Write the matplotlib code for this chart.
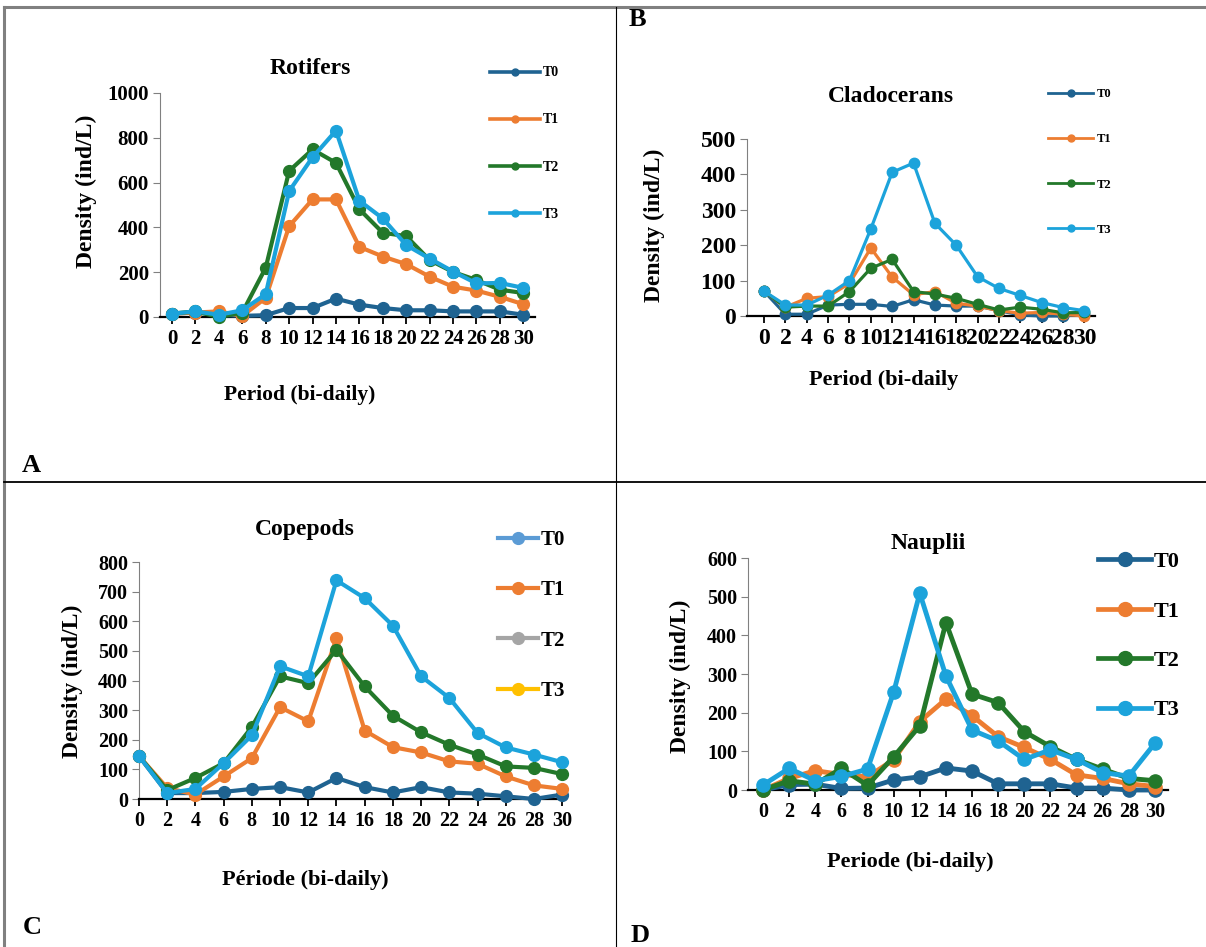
import matplotlib
matplotlib.use("Agg")
import matplotlib.pyplot as plt
from matplotlib.lines import Line2D

plt.rcParams["font.family"] = ["Liberation Serif", "DejaVu Serif"]
plt.rcParams["font.weight"] = "bold"

W, H = 1206, 947

periods = list(range(0, 31, 2))
series_names = ["T0", "T1", "T2", "T3"]

# Rotifers (ind/L)
rot_t0 = [15, 20, 10, 5, 8, 40, 40, 82, 55, 40, 30, 30, 25, 25, 25, 10]
rot_t1 = [15, 20, 25, 5, 85, 405, 525, 525, 313, 270, 236, 180, 135, 118, 90, 57]
rot_t2 = [15, 25, 0, 20, 220, 652, 748, 688, 481, 376, 361, 254, 201, 165, 122, 107]
rot_t3 = [15, 25, 10, 30, 102, 562, 713, 832, 519, 440, 321, 261, 203, 150, 152, 130]

# Cladocerans
cla_t0 = [70, 5, 5, 31, 33, 33, 27, 46, 31, 28, 28, 15, 3, 0, 0, 5]
cla_t1 = [70, 25, 50, 55, 92, 192, 110, 60, 69, 36, 28, 15, 8, 10, 5, 0]
cla_t2 = [70, 25, 28, 28, 69, 135, 160, 69, 62, 50, 33, 17, 25, 19, 9, 10]
cla_t3 = [70, 31, 31, 59, 100, 246, 406, 432, 262, 200, 111, 78, 58, 38, 24, 15]

# Copepods
cop_t0 = [145, 20, 20, 24, 34, 40, 22, 71, 40, 22, 40, 22, 18, 9, 0, 15]
cop_t1 = [145, 37, 15, 76, 138, 310, 262, 543, 231, 175, 157, 127, 119, 76, 46, 34]
cop_t2 = [145, 30, 71, 121, 243, 414, 391, 504, 380, 281, 225, 183, 150, 110, 105, 84]
cop_t3 = [145, 20, 34, 121, 215, 448, 414, 738, 678, 585, 414, 341, 223, 174, 150, 124]

# Nauplii
nau_t0 = [0, 14, 15, 4, 5, 26, 34, 57, 49, 16, 16, 16, 5, 5, 0, 0]
nau_t1 = [0, 30, 50, 40, 34, 78, 177, 235, 192, 138, 110, 79, 39, 30, 16, 9]
nau_t2 = [0, 24, 15, 56, 12, 86, 166, 433, 248, 226, 151, 112, 79, 54, 30, 24]
nau_t3 = [13, 56, 24, 35, 54, 253, 509, 295, 155, 127, 79, 104, 79, 45, 36, 121]

LINE_COLORS = ["#1F6391", "#ED7D31", "#23782A", "#1CA3DB"]
COPEPOD_LEGEND_COLORS = ["#5B9BD5", "#ED7D31", "#A5A5A5", "#FFC000"]

fig = plt.figure(figsize=(W / 100, H / 100), dpi=100)


def fxy(x, y):
    return x / W, 1 - y / H


def panel(rect, xlim, ymax, ystep, series, lw, ms, tick_fs):
    l, t, r, b = rect
    ax = fig.add_axes([l / W, 1 - b / H, (r - l) / W, (b - t) / H])
    ax.patch.set_alpha(0)
    for vals, c in zip(series, LINE_COLORS):
        ax.plot(periods, vals, "-o", color=c, lw=lw, ms=ms, clip_on=False, zorder=3)
    ax.set_xlim(*xlim)
    ax.set_ylim(0, ymax)
    ax.set_xticks(periods)
    ax.set_yticks(range(0, ymax + 1, ystep))
    for s in ("top", "right"):
        ax.spines[s].set_visible(False)
    ax.spines["left"].set_color("#808080")
    ax.spines["bottom"].set_linewidth(1.6)
    ax.tick_params(direction="out", length=5, labelsize=tick_fs)
    ax.tick_params(axis="y", color="#808080", pad=3)
    ax.tick_params(axis="x", width=1.3)
    return ax


def legend(ax, colors, left, cy, fs, lw, ms, hl, pad, spacing):
    handles = [Line2D([], [], color=c, lw=lw, marker="o", ms=ms) for c in colors]
    ax.legend(handles, series_names, loc="center left", bbox_to_anchor=fxy(left, cy),
              bbox_transform=fig.transFigure, frameon=False, borderpad=0,
              borderaxespad=0, fontsize=fs, handlelength=hl, handletextpad=pad,
              labelspacing=spacing)


def label(x, y, s, size, rot=0):
    fig.text(*fxy(x, y), s, fontsize=size, fontweight="bold", rotation=rot,
             ha="center", va="center")


# A - Rotifers
ax = panel((160, 93, 535, 317), (-1.03, 31), 1000, 200,
           [rot_t0, rot_t1, rot_t2, rot_t3], 3.0, 8.5, 15)
legend(ax, LINE_COLORS, 490, 143.5, 10, 2.6, 5, 3.6, 0.2, 2.45)
label(310, 68, "Rotifers", 17)
label(86, 191, "Density (ind/L)", 17, 90)
label(300, 395, "Period (bi-daily)", 15.5)

# B - Cladocerans
ax = panel((747, 139, 1095, 316), (-1.6, 31), 500, 100,
           [cla_t0, cla_t1, cla_t2, cla_t3], 2.3, 7.5, 17)
legend(ax, LINE_COLORS, 1048, 162, 9, 2.0, 5, 3.6, 0.3, 2.65)
label(891, 96, "Cladocerans", 17)
label(654, 225, "Density (ind/L)", 17, 90)
label(884, 380, "Period (bi-daily", 16)

# C - Copepods
ax = panel((139, 562, 565, 799), (0, 30.2), 800, 100,
           [cop_t0, cop_t1, cop_t2, cop_t3], 3.0, 8.5, 14.5)
legend(ax, COPEPOD_LEGEND_COLORS, 498, 615.5, 15, 3.0, 8.5, 1.9, 0.15, 1.45)
label(305, 530, "Copepods", 17)
label(72, 681, "Density (ind/L)", 17, 90)
label(305, 880, "Période (bi-daily)", 16)

# D - Nauplii
ax = panel((748, 558, 1168, 790), (-1.15, 31), 600, 100,
           [nau_t0, nau_t1, nau_t2, nau_t3], 3.5, 9.5, 14.5)
legend(ax, LINE_COLORS, 1098, 636, 16, 3.4, 10, 2.4, 0.1, 1.3)
label(928, 544, "Nauplii", 17)
label(680, 676, "Density (ind/L)", 17, 90)
label(910, 862, "Periode (bi-daily)", 16)

# panel letters
for (x, y), s in zip([(31, 465), (637, 20), (32, 927), (640, 935)], "ABCD"):
    label(x, y, s, 19)

# table frame around the four panels
frame = [((4, 7), (1206, 7), "#808080", 2.2),
         ((4, 7), (4, 947), "#808080", 2.2),
         ((616, 7), (616, 947), "black", 0.8),
         ((4, 482), (1206, 482), "black", 1.3)]
for p0, p1, c, w in frame:
    (x0, y0), (x1, y1) = fxy(*p0), fxy(*p1)
    fig.add_artist(Line2D([x0, x1], [y0, y1], color=c, lw=w, transform=fig.transFigure))

fig.savefig("out.png", dpi=100)
